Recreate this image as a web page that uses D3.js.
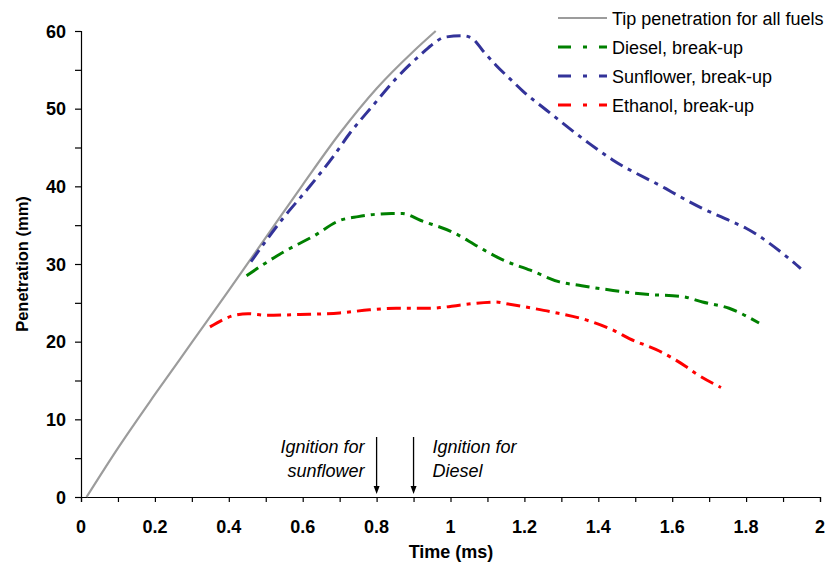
<!DOCTYPE html>
<html><head><meta charset="utf-8">
<script src="https://cdn.jsdelivr.net/npm/d3@7"></script>
<style>body{margin:0;background:#fff}svg{display:block}text{font-family:"Liberation Sans",Arial,sans-serif}</style>
</head><body><svg id="c" width="829" height="568"></svg>
<script>
const tipT = [0.015,0.1,0.2,0.3,0.4,0.5,0.6,0.7,0.8,0.9,0.96];
const tipV = [0,6.3,13.2,19.9,26.6,33.4,40.2,46.8,52.6,57.4,60];
const dieselT = [0.448,0.55,0.63,0.7,0.75,0.84,0.87,0.92,1.01,1.076,1.143,1.216,1.295,1.355,1.44,1.53,1.628,1.682,1.754,1.835];
const dieselV = [28.5,31.6,33.6,35.6,36.1,36.5,36.5,35.6,34.0,32.2,30.5,29.2,27.7,27.2,26.6,26.1,25.8,25.1,24.3,22.4];
const sunT = [0.46,0.547,0.614,0.682,0.727,0.79,0.853,0.925,0.952,0.984,1.033,1.06,1.087,1.123,1.164,1.195,1.26,1.376,1.439,1.583,1.62,1.68,1.75,1.8,1.916,1.948];
const sunV = [30.3,35.9,39.7,43.8,46.8,50.4,53.9,57.2,58.3,59.2,59.4,59.0,57.5,55.6,53.7,52.3,49.8,45.5,43.4,39.7,38.7,37.2,35.7,34.6,30.7,29.4];
const ethT = [0.349,0.416,0.452,0.502,0.592,0.7,0.781,0.853,0.943,0.975,1.024,1.123,1.15,1.222,1.277,1.367,1.444,1.484,1.565,1.637,1.664,1.732];
const ethV = [21.9,23.4,23.6,23.4,23.5,23.7,24.1,24.3,24.3,24.4,24.7,25.1,24.9,24.3,23.8,22.8,21.4,20.4,18.8,16.8,15.9,14.1];
const xTicks = [0,0.2,0.4,0.6,0.8,1,1.2,1.4,1.6,1.8,2];
const yTicks = [0,10,20,30,40,50,60];
const seriesNames = ["Tip penetration for all fuels","Diesel, break-up","Sunflower, break-up","Ethanol, break-up"];
const ignition = [{t:0.8, lines:["Ignition for","sunflower"], side:"left"},{t:0.9, lines:["Ignition for","Diesel"], side:"right"}];

const svg = d3.select("#c");
const x = d3.scaleLinear().domain([0,2]).range([81,820]);
const y = d3.scaleLinear().domain([0,60]).range([497,31]);

// axes
const xAxis = d3.axisBottom(x).tickValues(d3.range(0,2.0001,0.1)).tickSize(5).tickFormat("");
svg.append("g").attr("transform","translate(0,497)").call(xAxis)
  .call(g=>{g.select(".domain").attr("stroke","#000").attr("stroke-width",1.2);g.selectAll("line").attr("stroke","#000").attr("stroke-width",1.2);});
svg.append("g").selectAll("text").data(xTicks).join("text")
  .attr("x",d=>x(d)).attr("y",533).attr("text-anchor","middle")
  .attr("font-size",18).attr("font-weight","bold").text(d=>d);
const yAxis = d3.axisLeft(y).tickValues(d3.range(0,60.001,5)).tickSize(6).tickFormat("");
svg.append("g").attr("transform","translate(81,0)").call(yAxis)
  .call(g=>{g.select(".domain").attr("stroke","#000").attr("stroke-width",1.2);g.selectAll("line").attr("stroke","#000").attr("stroke-width",1.2);});
svg.append("g").selectAll("text").data(yTicks).join("text")
  .attr("x",66).attr("y",d=>y(d)+6.5).attr("text-anchor","end")
  .attr("font-size",18).attr("font-weight","bold").text(d=>d);

svg.append("text").attr("x",451).attr("y",558).attr("text-anchor","middle")
  .attr("font-size",18).attr("font-weight","bold").text("Time (ms)");
svg.append("text").attr("transform","translate(28,264) rotate(-90)").attr("text-anchor","middle")
  .attr("font-size",16.5).attr("font-weight","bold").text("Penetration (mm)");

// lines
const line = d3.line().x(d=>x(d[0])).y(d=>y(d[1])).curve(d3.curveMonotoneX);
const zip = (a,b)=>a.map((t,i)=>[t,b[i]]);
const dash = "14,6,4,6";
const series = [
  {data:zip(tipT,tipV), color:"#9c9c9c", w:2.2, dash:null},
  {data:zip(dieselT,dieselV), color:"#008000", w:3, dash:dash},
  {data:zip(sunT,sunV), color:"#333399", w:3, dash:dash},
  {data:zip(ethT,ethV), color:"#ff0000", w:3, dash:dash}
];
series.forEach(s=>{
  svg.append("path").attr("d",line(s.data)).attr("fill","none")
    .attr("stroke",s.color).attr("stroke-width",s.w)
    .attr("stroke-dasharray",s.dash);
});

// legend
const lg = svg.append("g");
series.forEach((s,i)=>{
  const yy = 18 + i*29;
  lg.append("line").attr("x1",558).attr("x2",607).attr("y1",yy).attr("y2",yy)
    .attr("stroke",s.color).attr("stroke-width",s.w).attr("stroke-dasharray",s.dash?"13,12,4,12":null);
  lg.append("text").attr("x",612).attr("y",yy+6.5).attr("font-size",18).text(seriesNames[i]);
});

// ignition annotations
ignition.forEach(a=>{
  svg.append("line").attr("x1",x(a.t)).attr("x2",x(a.t)).attr("y1",437).attr("y2",488)
    .attr("stroke","#000").attr("stroke-width",1.3);
  svg.append("path").attr("d",`M${x(a.t)-3},486 L${x(a.t)+3},486 L${x(a.t)},494 Z`).attr("fill","#000");
  a.lines.forEach((l,i)=>{
    svg.append("text").attr("x", a.side==="left"? x(a.t)-12 : x(a.t)+19)
      .attr("y",453+i*24).attr("text-anchor", a.side==="left"?"end":"start")
      .attr("font-size",18).attr("font-style","italic").text(l);
  });
});
</script></body></html>
